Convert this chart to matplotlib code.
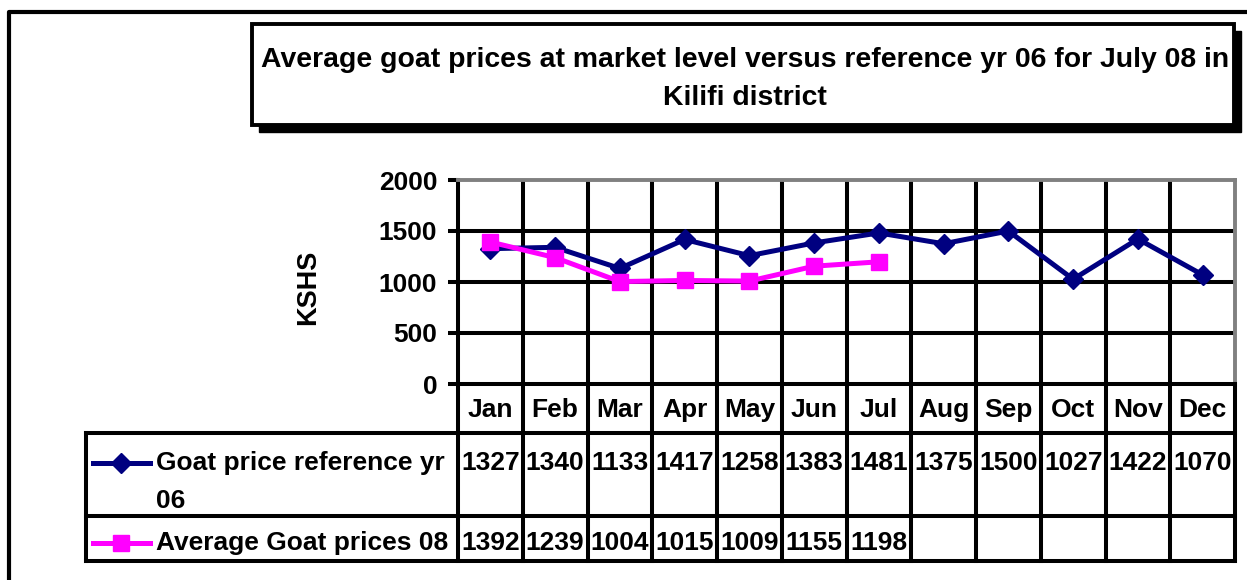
import matplotlib.pyplot as plt
import numpy as np
from matplotlib.lines import Line2D
from matplotlib.patches import Rectangle
from matplotlib.transforms import blended_transform_factory

months = ["Jan", "Feb", "Mar", "Apr", "May", "Jun",
          "Jul", "Aug", "Sep", "Oct", "Nov", "Dec"]
ref06 = [1327, 1340, 1133, 1417, 1258, 1383, 1481, 1375, 1500, 1027, 1422, 1070]
avg08 = [1392, 1239, 1004, 1015, 1009, 1155, 1198]
yticks = [0, 500, 1000, 1500, 2000]

ref_label = "Goat price reference yr"
ref_label2 = "06"
avg_label = "Average Goat prices 08"
title1 = "Average goat prices at market level versus reference yr 06 for July 08 in"
title2 = "Kilifi district"

NAVY = "#000080"
MAGENTA = "#FF00FF"
LW = 2.9  # grid / table line width
FS = 19   # table text size

W, H = 1247, 580
plt.rcParams['font.family'] = ['Liberation Sans', 'DejaVu Sans']
plt.rcParams['font.weight'] = 'bold'


def fx(px):
    return px / W


def fy(py):
    return 1 - py / H


fig = plt.figure(figsize=(W / 100, H / 100), dpi=100)

# outer chart frame (runs off the right and bottom)
fig.add_artist(Line2D([fx(9), fx(9), 1.0], [0.0, fy(12), fy(12)],
                      color="black", lw=3, transform=fig.transFigure))

# title box with shadow
bx0, bx1, by0, by1 = 252, 1234, 24, 125
fig.add_artist(Rectangle((fx(bx0 + 7), fy(by1 + 7)), fx(bx1) - fx(bx0), (by1 - by0) / H,
                         facecolor="black", edgecolor="black", transform=fig.transFigure))
fig.add_artist(Rectangle((fx(bx0), fy(by1)), fx(bx1) - fx(bx0), (by1 - by0) / H,
                         facecolor="white", edgecolor="black", lw=2.8,
                         transform=fig.transFigure))
fig.text(fx(745), fy(60), title1, ha="center", va="center", fontsize=20.4)
fig.text(fx(745), fy(98), title2, ha="center", va="center", fontsize=20.4)

# plot area
PL, PR, PT, PB = 458, 1235, 180, 384
ax = fig.add_axes([fx(PL), fy(PB), fx(PR) - fx(PL), (PB - PT) / H])
x = np.arange(len(months))
ax.set_xlim(-0.5, len(months) - 0.5)
ax.set_ylim(yticks[0], yticks[-1])
ax.set_yticks(yticks)
ax.set_xticks([])
ax.tick_params(axis="y", length=7, width=LW, pad=8, labelsize=FS)

for b in np.arange(0.5, len(months) - 1, 1):
    ax.axvline(b, color="black", lw=LW, zorder=1)
for t in yticks[1:-1]:
    ax.axhline(t, color="black", lw=LW, zorder=1)

for side in ("left", "bottom"):
    ax.spines[side].set_color("black")
    ax.spines[side].set_linewidth(LW)
for side in ("top", "right"):
    ax.spines[side].set_color("#808080")
    ax.spines[side].set_linewidth(2.8)

ax.plot(x, ref06, color=NAVY, lw=3.6, marker="D", ms=10.5, zorder=3)
ax.plot(x[:len(avg08)], avg08, color=MAGENTA, lw=3.6, marker="s", ms=12, zorder=4)

fig.text(fx(308), fy(287), "KSHS", rotation=90, ha="center", va="center", fontsize=19.5)

# data table below the plot
trans = blended_transform_factory(ax.transData, fig.transFigure)
LEG_L = 86
R_HEAD, R1, R2, R_END = 384, 433, 516, 561
for b in np.arange(-0.5, len(months), 1):
    ax.add_line(Line2D([b, b], [fy(R_HEAD), fy(R_END)], color="black", lw=LW,
                       transform=trans, clip_on=False))
for r in (R1, R2, R_END):
    fig.add_artist(Line2D([fx(LEG_L), fx(PR)], [fy(r), fy(r)], color="black", lw=LW,
                          transform=fig.transFigure))
fig.add_artist(Line2D([fx(LEG_L), fx(LEG_L)], [fy(R1), fy(R_END)], color="black", lw=LW,
                      transform=fig.transFigure))

for i, m in enumerate(months):
    ax.text(i, fy(410), m, transform=trans, ha="center", va="center", fontsize=FS)
for i, v in enumerate(ref06):
    ax.text(i, fy(463), str(v), transform=trans, ha="center", va="center", fontsize=FS)
for i, v in enumerate(avg08):
    ax.text(i, fy(543), str(v), transform=trans, ha="center", va="center", fontsize=FS)

# legend keys inside the table
fig.add_artist(Line2D([fx(93), fx(121), fx(150)], [fy(463)] * 3, color=NAVY, lw=3.6,
                      marker="D", ms=10.5, markevery=[1], transform=fig.transFigure))
fig.add_artist(Line2D([fx(93), fx(121), fx(150)], [fy(543)] * 3, color=MAGENTA, lw=3.6,
                      marker="s", ms=12, markevery=[1], transform=fig.transFigure))
fig.text(fx(156), fy(463), ref_label, ha="left", va="center", fontsize=FS)
fig.text(fx(156), fy(501), ref_label2, ha="left", va="center", fontsize=FS)
fig.text(fx(156), fy(543), avg_label, ha="left", va="center", fontsize=FS)

fig.savefig("out.png", dpi=100)
plt.close()
